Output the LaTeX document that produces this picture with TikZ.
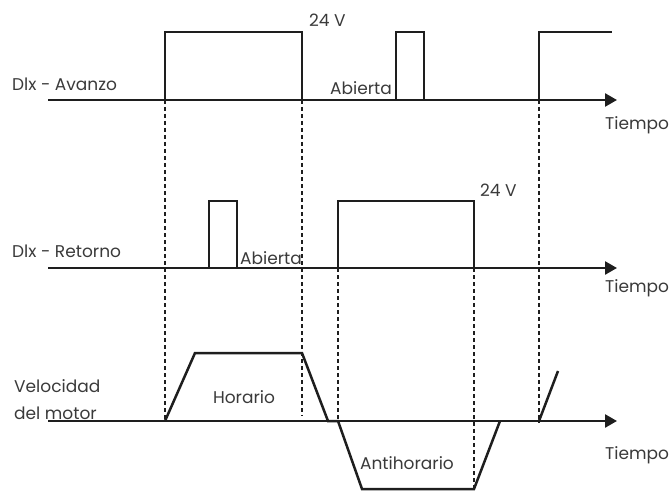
\documentclass[tikz,border=0pt]{standalone}
\usepackage{fontspec}
\setmainfont{Poppins}
\usetikzlibrary{arrows.meta}
\definecolor{ink}{HTML}{1E1E1E}
\definecolor{txt}{HTML}{3A3A3A}
\tikzset{
  sig/.style={line width=2.5pt, draw=ink, line join=miter},
  axisline/.style={line width=2.5pt, draw=ink, -{Triangle[length=12pt,width=13pt]}},
  guide/.style={line width=1.8pt, draw=ink, dash pattern=on 4pt off 3pt},
  lbl/.style={text=txt, font=\fontsize{17}{21}\selectfont, inner sep=0pt},
}
\begin{document}
\begin{tikzpicture}[x=1pt,y=-1pt]
\useasboundingbox (0,0) rectangle (672,492);
% dashed guides
\draw[guide] (165,100) -- (165,421);
\draw[guide] (302,100) -- (302,416);
\draw[guide] (539,100) -- (539,423);
\draw[guide] (338,268) -- (338,421);
\draw[guide] (474,268) -- (474,489);
% axes
\draw[axisline] (48,100) -- (617,100);
\draw[axisline] (48,268) -- (617,268);
\draw[axisline] (48,421) -- (617,421);
% signal 1
\draw[sig] (165,100) -- (165,32) -- (302,32) -- (302,100);
\draw[sig] (396,100) -- (396,32) -- (424,32) -- (424,100);
\draw[sig] (539,100) -- (539,32) -- (612,32);
% signal 2
\draw[sig] (209,268) -- (209,201) -- (237,201) -- (237,268);
\draw[sig] (338,268) -- (338,201) -- (474,201) -- (474,268);
% speed
\draw[sig] (165,421) -- (195,353) -- (302,353) -- (328,421) -- (338,421)
  -- (362,489) -- (474,489) -- (500,421);
\draw[sig] (539,421) -- (558,371);
% labels
\node[lbl, anchor=west] (la) at (12,84) {Dlx - Avanzo};
\node[lbl, anchor=west] (lr) at (12,251) {Dlx - Retorno};
\node[lbl, anchor=west, align=left, font=\fontsize{17}{27}\selectfont] (lv) at (14,400) {Velocidad\\del motor};
\node[lbl, anchor=west] (v1) at (309,20) {24 V};
\node[lbl, anchor=west] (v2) at (480,190) {24 V};
\node[lbl, anchor=west] (ab1) at (330,88) {Abierta};
\node[lbl, anchor=west] (ab2) at (240,258) {Abierta};
\node[lbl, anchor=west] (t1) at (605,125) {Tiempo};
\node[lbl, anchor=west] (t2) at (605,288) {Tiempo};
\node[lbl, anchor=west] (t3) at (605,455) {Tiempo};
\node[lbl] (hor) at (244,397) {Horario};
\node[lbl] (ahor) at (407,463) {Antihorario};
\end{tikzpicture}
\end{document}
